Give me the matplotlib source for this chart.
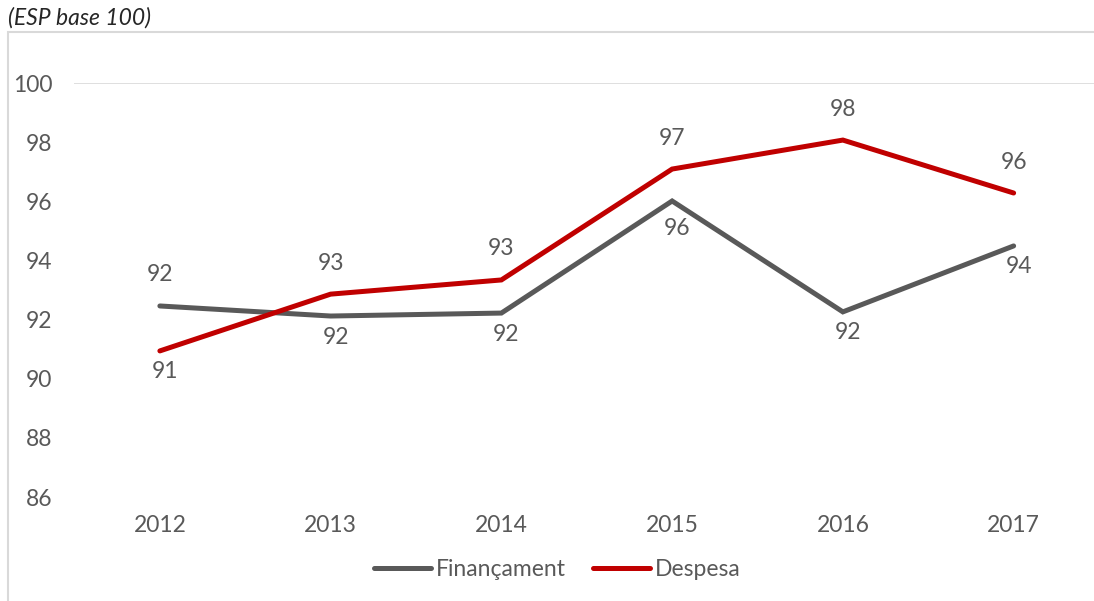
import matplotlib
matplotlib.use("Agg")
import matplotlib.pyplot as plt
from matplotlib.patches import Rectangle

years = ["2012", "2013", "2014", "2015", "2016", "2017"]
financament = [92.46, 92.12, 92.22, 96.01, 92.26, 94.49]
despesa = [90.94, 92.86, 93.34, 97.09, 98.07, 96.28]
yticks = [86, 88, 90, 92, 94, 96, 98, 100]
fin_label_pos = ["above", "below", "below", "below", "below", "below"]
des_label_pos = ["below", "above", "above", "above", "above", "above"]

GRAY = "#595959"
RED = "#C00000"
TXT = "#595959"

plt.rcParams['font.family'] = ['Lato', 'DejaVu Sans']

W, H = 1094, 601
fig = plt.figure(figsize=(W / 100, H / 100), dpi=100)

# outer frame (extends past right/bottom edges)
fig.patches.append(Rectangle((8 / W, -0.1), 1.2, 1 - 32 / H + 0.1,
                             transform=fig.transFigure, fill=False,
                             edgecolor="#D9D9D9", linewidth=1.5))

fig.text(8 / W, 1 - 18 / H, "(ESP base 100)", fontsize=16.5, style="italic",
         color="#262626", ha="left", va="center")

left = 74.5 / W
right = 1099 / W
top = 1 - 83 / H
bottom = 1 - 497 / H
ax = fig.add_axes([left, bottom, right - left, top - bottom])

x = list(range(len(years)))
ax.plot(x, financament, color=GRAY, linewidth=3.6, solid_capstyle="round",
        solid_joinstyle="miter", label="Finançament")
ax.plot(x, despesa, color=RED, linewidth=3.6, solid_capstyle="round",
        solid_joinstyle="miter", label="Despesa")

ax.axhline(100, color="#D9D9D9", linewidth=1.2, zorder=0)

ax.set_xlim(-0.5, len(years) - 0.5)
ax.set_ylim(86, 100)
ax.set_xticks(x)
ax.set_xticklabels(years)
ax.set_yticks(yticks)
ax.set_yticklabels([str(v) for v in yticks])
ax.tick_params(axis="both", length=0, labelsize=16.5, labelcolor=TXT)
ax.tick_params(axis="y", pad=16)
ax.tick_params(axis="x", pad=13)
for s in ax.spines.values():
    s.set_visible(False)
ax.set_facecolor("none")

def label(vals, poss):
    for i, (v, p) in enumerate(zip(vals, poss)):
        if p == "above":
            off = (0, 31 * 0.72)
        else:
            extra = 7 if (i == 3) else 0
            off = (5 * 0.72, -(21 + extra) * 0.72)
        ax.annotate(f"{round(v):d}", (i, v), xytext=off, textcoords="offset points",
                    ha="center", va="center", fontsize=16.5, color=TXT)

label(financament, fin_label_pos)
label(despesa, des_label_pos)

leg = fig.legend(loc="center", bbox_to_anchor=(557 / W, 1 - 570 / H), ncol=2,
                 frameon=False, fontsize=16.5, labelcolor=TXT, handlelength=2.5,
                 handletextpad=0.2, columnspacing=1.2)

fig.savefig("out.png", dpi=100)
